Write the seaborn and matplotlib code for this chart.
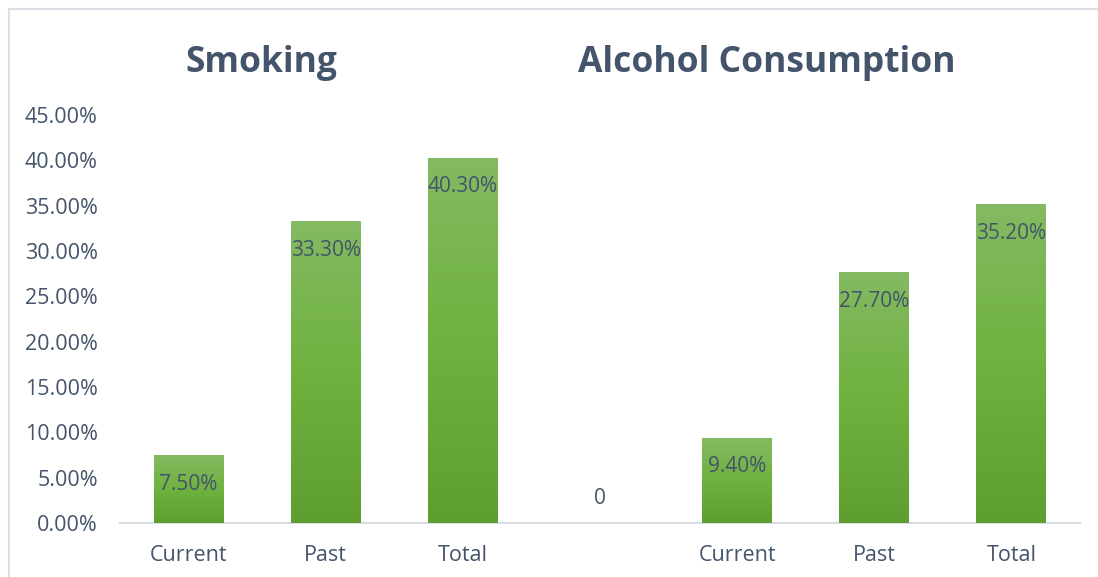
import numpy as np
import pandas as pd
import matplotlib
matplotlib.use("Agg")
import matplotlib.pyplot as plt
from matplotlib.colors import LinearSegmentedColormap
from matplotlib.patches import Rectangle
import seaborn as sns

# Data
categories = ["Current", "Past", "Total"]
smoking = [0.075, 0.333, 0.403]
alcohol = [0.094, 0.277, 0.352]
gap_value = 0
group_titles = ["Smoking", "Alcohol Consumption"]
y_ticks = [0.0, 0.05, 0.10, 0.15, 0.20, 0.25, 0.30, 0.35, 0.40, 0.45]

slots = [f"s_{c}" for c in categories] + ["gap"] + [f"a_{c}" for c in categories]
values = smoking + [gap_value] + alcohol
tick_text = categories + [""] + categories
df = pd.DataFrame({"slot": slots, "value": values})

sns.set_theme(style="white")
plt.rcParams["font.family"] = ["Open Sans", "DejaVu Sans"]

TEXT = "#44546a"
W, H = 1098, 577
fig = plt.figure(figsize=(W / 100, H / 100), dpi=100)
fig.patch.set_facecolor("white")

# outer chart frame
fig.add_artist(Rectangle((9 / W, -0.05), 1.2, 1 - 9 / H + 0.05, transform=fig.transFigure,
                         fill=False, edgecolor="#d9dde4", linewidth=1.5))

ax = fig.add_axes([120 / W, 54 / H, 960 / W, (523 - 115) / H])
sns.barplot(data=df, x="slot", y="value", order=slots, color="#70ad47",
            width=0.51, ax=ax, zorder=2)

ax.set_ylim(0, 0.45)
ax.set_xlim(-0.5, len(slots) - 0.5)
ax.set_yticks(y_ticks)
ax.set_yticklabels([f"{t * 100:.2f}%" for t in y_ticks], fontsize=15.5, color=TEXT)
ax.set_xticks(range(len(slots)))
ax.set_xticklabels(tick_text, fontsize=15.5, color=TEXT)
ax.tick_params(axis="both", length=0)
ax.tick_params(axis="y", pad=16)
ax.tick_params(axis="x", pad=16)
ax.set_xlabel("")
ax.set_ylabel("")
for side in ["top", "right", "left"]:
    ax.spines[side].set_visible(False)
ax.spines["bottom"].set_color("#d9dde4")
ax.spines["bottom"].set_linewidth(1.5)
ax.grid(False)

# vertical green gradient on every bar
cmap = LinearSegmentedColormap.from_list("grn", ["#5e9e30", "#6fb23f", "#84ba62"])
grad = np.linspace(0, 1, 256).reshape(-1, 1)
for patch in list(ax.patches):
    x0, y0 = patch.get_x(), patch.get_y()
    w, h = patch.get_width(), patch.get_height()
    if h <= 0:
        continue
    im = ax.imshow(grad, cmap=cmap, origin="lower", aspect="auto",
                   extent=(x0, x0 + w, y0, y0 + h), zorder=3)
    im.set_clip_path(patch)
    patch.set_edgecolor("none")
ax.set_xlim(-0.5, len(slots) - 0.5)
ax.set_ylim(0, 0.45)

# value labels
for i, v in enumerate(values):
    if v > 0:
        ax.annotate(f"{v * 100:.2f}%", (i, v), xytext=(0, -21), textcoords="offset points",
                    ha="center", va="center", fontsize=15, color=TEXT, zorder=5)
    else:
        ax.annotate(f"{v}", (i, v), xytext=(0, 18), textcoords="offset points",
                    ha="center", va="center", fontsize=15, color=TEXT, zorder=5)

# group titles
fig.text(261 / W, 1 - 63 / H, group_titles[0], ha="center", va="center",
         fontsize=25.5, fontweight="bold", color=TEXT)
fig.text(767 / W, 1 - 63 / H, group_titles[1], ha="center", va="center",
         fontsize=25.5, fontweight="bold", color=TEXT)

fig.savefig("out.png", dpi=100)
